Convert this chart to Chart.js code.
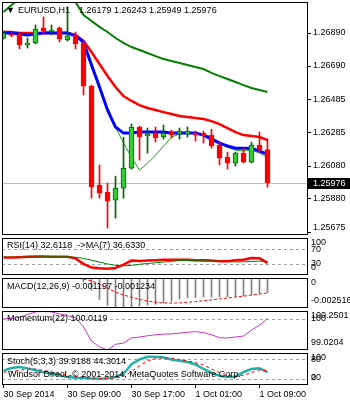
<!DOCTYPE html>
<html>
<head>
<meta charset="utf-8">
<script src="https://cdn.jsdelivr.net/npm/chart.js@4.4.1/dist/chart.umd.min.js"></script>
<style>
  html, body { margin: 0; padding: 0; background: #fff; }
  #wrap { position: relative; width: 350px; height: 400px; overflow: hidden; background: #fff; }
  #wrap canvas { position: absolute; left: 0; }
</style>
</head>
<body>
<div id="wrap">
  <canvas id="mainChart" width="350" height="237" style="top:0"></canvas>
  <canvas id="rsiChart" width="350" height="40" style="top:237px"></canvas>
  <canvas id="macdChart" width="350" height="33" style="top:277px"></canvas>
  <canvas id="momChart" width="350" height="41" style="top:310px"></canvas>
  <canvas id="stochChart" width="350" height="48" style="top:352px"></canvas>
</div>
<script>
// EURUSD H1, one value per bar (34 bars)
const symbol = 'EURUSD,H1';
const timeLabels = ['30 Sep 2014', '30 Sep 09:00', '30 Sep 17:00', '1 Oct 01:00', '1 Oct 09:00'];
const timeLabelBars = [0, 8, 16, 24, 32];

const opens  = [1.26859, 1.26878, 1.26884, 1.26817, 1.26829, 1.26921, 1.26902, 1.26921, 1.26847, 1.26878, 1.26829, 1.26566, 1.25961, 1.25918, 1.25870, 1.25943, 1.26065, 1.26316, 1.26261, 1.26279, 1.26255, 1.26285, 1.26273, 1.26273, 1.26279, 1.26279, 1.26267, 1.26206, 1.26132, 1.26096, 1.26157, 1.26102, 1.26206, 1.26179];
const highs  = [1.26902, 1.26890, 1.26890, 1.26859, 1.26939, 1.26988, 1.26939, 1.26927, 1.27049, 1.26896, 1.26841, 1.26572, 1.26084, 1.25974, 1.26016, 1.26254, 1.26334, 1.26322, 1.26310, 1.26316, 1.26328, 1.26297, 1.26310, 1.26316, 1.26291, 1.26291, 1.26303, 1.26230, 1.26163, 1.26163, 1.26187, 1.26224, 1.26285, 1.26243];
const lows   = [1.26853, 1.26866, 1.26792, 1.26798, 1.26823, 1.26884, 1.26878, 1.26835, 1.26841, 1.26792, 1.26511, 1.25882, 1.25882, 1.25699, 1.25760, 1.25882, 1.26059, 1.26114, 1.26157, 1.26224, 1.26242, 1.26249, 1.26242, 1.26255, 1.26230, 1.26218, 1.26187, 1.26084, 1.26059, 1.26078, 1.26096, 1.26096, 1.26163, 1.25949];
const closes = [1.26890, 1.26875, 1.26817, 1.26829, 1.26914, 1.26902, 1.26905, 1.26853, 1.26872, 1.26823, 1.26566, 1.25949, 1.25912, 1.25864, 1.25943, 1.26065, 1.26316, 1.26255, 1.26273, 1.26249, 1.26279, 1.26267, 1.26291, 1.26291, 1.26267, 1.26261, 1.26200, 1.26126, 1.26096, 1.26157, 1.26102, 1.26206, 1.26175, 1.25976];

// moving averages on the price pane
const maFast = [1.26890, 1.26890, 1.26884, 1.26878, 1.26884, 1.26890, 1.26890, 1.26890, 1.26890, 1.26872, 1.26835, 1.26694, 1.26560, 1.26420, 1.26316, 1.26279, 1.26279, 1.26285, 1.26285, 1.26285, 1.26285, 1.26279, 1.26279, 1.26279, 1.26279, 1.26267, 1.26242, 1.26218, 1.26200, 1.26187, 1.26187, 1.26187, 1.26169, 1.26151];
const maMid  = [1.26896, 1.26896, 1.26890, 1.26890, 1.26890, 1.26890, 1.26890, 1.26890, 1.26890, 1.26878, 1.26841, 1.26774, 1.26701, 1.26627, 1.26560, 1.26505, 1.26475, 1.26450, 1.26432, 1.26420, 1.26407, 1.26395, 1.26383, 1.26377, 1.26371, 1.26365, 1.26352, 1.26334, 1.26310, 1.26285, 1.26267, 1.26261, 1.26255, 1.26236];
const maSlow = [1.27018, 1.27061, 1.27098, 1.27110, 1.27122, 1.27128, 1.27134, 1.27134, 1.27128, 1.27079, 1.27000, 1.26963, 1.26927, 1.26896, 1.26859, 1.26829, 1.26804, 1.26786, 1.26768, 1.26749, 1.26731, 1.26719, 1.26707, 1.26694, 1.26682, 1.26670, 1.26646, 1.26627, 1.26609, 1.26591, 1.26572, 1.26554, 1.26542, 1.26530];
const maThin = [1.26890, 1.26884, 1.26878, 1.26872, 1.26884, 1.26896, 1.26896, 1.26890, 1.26890, 1.26872, 1.26823, 1.26682, 1.26554, 1.26432, 1.26316, 1.26218, 1.26132, 1.26053, 1.26096, 1.26144, 1.26200, 1.26255, 1.26273, 1.26279, 1.26279, 1.26273, 1.26255, 1.26224, 1.26193, 1.26175, 1.26169, 1.26175, 1.26157, 1.26132];
const priceTicks = [1.26890, 1.26690, 1.26485, 1.26285, 1.26080, 1.25880, 1.25675];

// indicators
const rsi   = [47, 47, 48, 49, 50, 50, 49, 49, 49, 45, 30, 20, 18, 17, 19, 28, 39, 38, 39, 40, 41, 41, 41, 41, 40, 40, 39, 37, 37, 40, 41, 46, 45, 32.6118];
const rsiMa = [48, 48, 48, 48, 48, 49, 49, 49, 49, 48, 45, 40, 35, 30, 26, 25, 26, 29, 31, 33, 35, 37, 39, 39, 38.5, 38, 37.5, 37, 36, 35.5, 35.5, 36.5, 37.5, 36.6330];
const rsiTicks = [100, 70, 30, 0];
const rsiLevels = [70, 30];

const macd       = [0.00003, 0.00002, 0.00000, -0.00002, 0.00001, 0.00003, 0.00004, 0.00003, 0.00003, 0.00000, -0.00030, -0.00100, -0.00180, -0.00230, -0.00250, -0.002516, -0.00245, -0.00235, -0.00228, -0.00220, -0.00210, -0.00195, -0.00175, -0.00165, -0.00162, -0.00160, -0.00158, -0.00157, -0.00156, -0.00152, -0.00147, -0.00137, -0.00127, -0.001197];
const macdSignal = [0.00002, 0.00002, 0.00002, 0.00002, 0.00002, 0.00002, 0.00002, 0.00002, 0.00002, 0.00002, -0.00003, -0.00020, -0.00045, -0.00085, -0.00115, -0.00140, -0.00160, -0.00178, -0.00192, -0.00202, -0.00208, -0.00210, -0.00208, -0.00203, -0.00197, -0.00190, -0.00182, -0.00174, -0.00166, -0.00158, -0.00150, -0.00141, -0.00132, -0.001234];
const macdTicks = [0, -0.002516];

const momentum = [100.00, 100.02, 100.05, 100.14, 100.22, 100.2501, 100.22, 100.16, 100.10, 100.04, 99.75, 99.30, 99.12, 99.0204, 99.20, 99.24, 99.40, 99.43, 99.47, 99.50, 99.52, 99.53, 99.55, 99.58, 99.60, 99.57, 99.50, 99.41, 99.40, 99.43, 99.46, 99.65, 99.80, 100.0119];
const momTicks = [100.2501, 100, 99.0204];
const momLevels = [100];

const stochMain   = [45, 53, 56, 52, 46, 40, 36, 30, 25, 23, 22, 20, 19, 21, 25, 35, 65, 80, 88, 88, 86, 80, 76, 72, 64, 50, 38, 29, 25, 26, 40, 50, 52, 39.9188];
const stochSignal = [40, 42, 46, 50, 50, 46, 41, 35, 31, 27, 24, 22, 21, 20, 22, 27, 42, 60, 75, 83, 85, 84, 80, 75, 70, 62, 50, 39, 31, 27, 30, 39, 47, 44.3014];
const stochTicks = [100, 80, 20, 0];
const stochLevels = [80, 20];

// layout helpers
const FONT_FAMILY = '"Liberation Sans", Arial, sans-serif';
const FONT = '9px ' + FONT_FAMILY;
const X_MIN = -0.1875, X_MAX = 38.0625;   // 8 px per bar
const last = closes.length - 1;
const idx = closes.map((_, i) => i);
const pts = arr => arr.map((v, i) => ({ x: i, y: v }));

// pane frame, levels, text and right-hand labels (MT4 style)
function paneDecor(cfg) {
  return {
    id: 'paneDecor',
    beforeDatasetsDraw(chart) {
      const { ctx, chartArea: a } = chart;
      const y = chart.scales.y;
      ctx.save();
      ctx.lineWidth = 1;
      ctx.strokeStyle = '#a0a0a0';
      ctx.setLineDash([3, 3]);
      (cfg.levels || []).forEach(v => {
        const py = Math.round(y.getPixelForValue(v)) + 0.5;
        ctx.beginPath(); ctx.moveTo(a.left, py); ctx.lineTo(a.right, py); ctx.stroke();
      });
      if (cfg.price != null) {
        ctx.setLineDash([]);
        ctx.strokeStyle = '#c0c0c0';
        const py = Math.round(y.getPixelForValue(cfg.price)) + 0.5;
        ctx.beginPath(); ctx.moveTo(a.left, py); ctx.lineTo(a.right, py); ctx.stroke();
      }
      ctx.restore();
    },
    afterDraw(chart) {
      const { ctx, chartArea: a } = chart;
      const y = chart.scales.y;
      ctx.save();
      ctx.strokeStyle = '#000';
      ctx.lineWidth = 1;
      ctx.strokeRect(a.left + 0.5, a.top + 0.5, a.right - a.left - 1, a.bottom - a.top - 1);
      ctx.fillStyle = '#000';
      ctx.font = FONT;
      ctx.textBaseline = 'middle';
      ctx.textAlign = 'left';
      (cfg.texts || []).forEach(t => ctx.fillText(t.text, a.left + t.dx, a.top + t.dy));
      (cfg.ticks || []).forEach(v => {
        const py = y.getPixelForValue(v);
        const cy = Math.min(Math.max(py, a.top + 5), a.bottom - 7);
        if (cfg.tickMarks) {
          const ty = Math.round(py) + 0.5;
          ctx.beginPath(); ctx.moveTo(a.right, ty); ctx.lineTo(a.right + 3, ty); ctx.stroke();
        }
        ctx.fillText(cfg.format(v), a.right + cfg.labelDx, cy);
      });
      if (cfg.price != null) {
        const py = Math.round(y.getPixelForValue(cfg.price));
        ctx.fillStyle = '#000';
        ctx.fillRect(a.right, py - 5, chart.width - a.right, 11);
        ctx.fillStyle = '#fff';
        ctx.fillText(cfg.format(cfg.price), a.right + cfg.labelDx, py + 0.5);
      }
      ctx.restore();
    }
  };
}

function paneOptions(yMin, yMax, padTop, padBottom, showX) {
  const x = {
    type: 'linear', min: X_MIN, max: X_MAX, offset: false, display: false,
    grid: { offset: false }
  };
  if (showX) {
    Object.assign(x, {
      display: true,
      grid: { offset: false, drawOnChartArea: false, drawTicks: true, tickLength: 3, color: '#000' },
      border: { display: false },
      ticks: {
        autoSkip: false, maxRotation: 0, align: 'start', padding: 1, color: '#000',
        font: { family: FONT_FAMILY, size: 9 },
        callback: v => timeLabels[timeLabelBars.indexOf(v)]
      },
      afterBuildTicks: s => { s.ticks = timeLabelBars.map(v => ({ value: v })); },
      afterFit: s => { s.height = 15; }
    });
  }
  return {
    responsive: false,
    animation: false,
    events: [],
    layout: { padding: { left: 2, right: 42, top: padTop, bottom: padBottom } },
    plugins: { legend: { display: false }, tooltip: { enabled: false } },
    scales: {
      x: x,
      y: { type: 'linear', min: yMin, max: yMax, beginAtZero: false, display: false }
    }
  };
}

function lineSet(arr, color, width, order, dash) {
  return {
    type: 'line', data: pts(arr), borderColor: color, borderWidth: width,
    borderDash: dash || [], pointRadius: 0, tension: 0, order: order
  };
}

// price pane
const bull = idx.map(i => closes[i] >= opens[i]);
new Chart(document.getElementById('mainChart'), {
  type: 'bar',
  data: {
    datasets: [
      {
        data: idx.map(i => ({ x: i, y: [opens[i], closes[i]] })),
        backgroundColor: bull.map(b => b ? '#33cc33' : '#ff0000'),
        borderColor: bull.map(b => b ? '#006400' : '#ff0000'),
        borderWidth: 1, borderSkipped: false, barThickness: 5, minBarLength: 1,
        grouped: false, order: 0
      },
      {
        data: idx.map(i => ({ x: i, y: [lows[i], highs[i]] })),
        backgroundColor: bull.map(b => b ? '#006400' : '#ff0000'),
        borderWidth: 0, barThickness: 1, grouped: false, order: 1
      },
      lineSet(maFast, '#0000ff', 3, 2),
      lineSet(maThin, '#1f9a1f', 1, 3),
      lineSet(maMid, '#ff0000', 2.5, 4),
      lineSet(maSlow, '#008000', 2, 5)
    ]
  },
  options: paneOptions(1.25657, 1.27079, 2, 2, false),
  plugins: [paneDecor({
    texts: [
      { text: '\u25BC', dx: 4, dy: 9 },
      { text: symbol, dx: 16, dy: 9 },
      { text: [opens[last], highs[last], lows[last], closes[last]].map(v => v.toFixed(5)).join(' '), dx: 77, dy: 9 }
    ],
    ticks: priceTicks, format: v => v.toFixed(5), labelDx: 5, tickMarks: true,
    price: closes[last]
  })]
});

// RSI pane
new Chart(document.getElementById('rsiChart'), {
  type: 'line',
  data: {
    datasets: [
      lineSet(rsiMa, '#008000', 1, 0),
      lineSet(rsi, '#ff0000', 2.5, 1)
    ]
  },
  options: paneOptions(0, 100, 1, 2, false),
  plugins: [paneDecor({
    levels: rsiLevels,
    texts: [{ text: `RSI(14) ${rsi[last].toFixed(4)}  ->MA(7) ${rsiMa[last].toFixed(4)}`, dx: 5, dy: 8 }],
    ticks: rsiTicks, format: v => String(v), labelDx: 3
  })]
});

// MACD pane
new Chart(document.getElementById('macdChart'), {
  type: 'bar',
  data: {
    datasets: [
      lineSet(macdSignal, '#ff0000', 1, 0, [3, 2]),
      {
        data: idx.map(i => ({ x: i, y: [0, macd[i]] })),
        backgroundColor: '#808080', borderWidth: 0, barThickness: 1, grouped: false, order: 1
      }
    ]
  },
  options: paneOptions(-0.002516, 0.00005, 1, 2, false),
  plugins: [paneDecor({
    texts: [{ text: `MACD(12,26,9) ${macd[last].toFixed(6)} ${macdSignal[last].toFixed(6)}`, dx: 5, dy: 9 }],
    ticks: macdTicks, format: v => String(v), labelDx: 3
  })]
});

// Momentum pane
new Chart(document.getElementById('momChart'), {
  type: 'line',
  data: { datasets: [lineSet(momentum, '#cc33cc', 1, 0)] },
  options: paneOptions(99.0204, 100.2501, 1, 1, false),
  plugins: [paneDecor({
    levels: momLevels,
    texts: [{ text: `Momentum(22) ${momentum[last].toFixed(4)}`, dx: 5, dy: 8 }],
    ticks: momTicks, format: v => String(v), labelDx: 3
  })]
});

// Stochastic pane + time axis
new Chart(document.getElementById('stochChart'), {
  type: 'line',
  data: {
    datasets: [
      lineSet(stochSignal, '#ff0000', 1, 0, [3, 3]),
      lineSet(stochMain, '#20b2aa', 2.5, 1)
    ]
  },
  options: paneOptions(0, 100, 1, 0, true),
  plugins: [paneDecor({
    levels: stochLevels,
    texts: [
      { text: `Stoch(5,3,3) ${stochMain[last].toFixed(4)} ${stochSignal[last].toFixed(4)}`, dx: 5, dy: 9 },
      { text: 'Windsor Direct, \u00A9 2001-2014, MetaQuotes Software Corp.', dx: 6, dy: 22 }
    ],
    ticks: stochTicks, format: v => String(v), labelDx: 3
  })]
});
</script>
</body>
</html>
